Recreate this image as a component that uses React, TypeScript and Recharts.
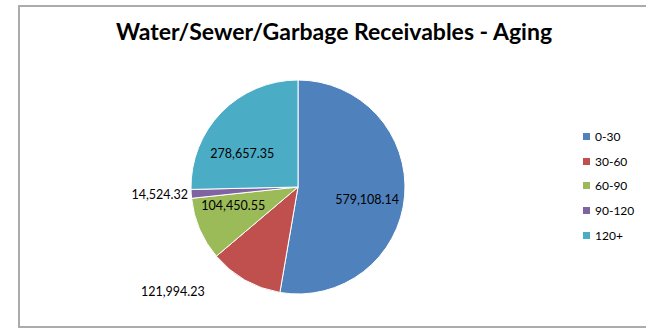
import { PieChart, Pie, Cell } from 'recharts';

const buckets = ['0-30', '30-60', '60-90', '90-120', '120+'];
const amounts = [579108.14, 121994.23, 104450.55, 14524.32, 278657.35];
const colors = ['#4F81BD', '#C0504D', '#9BBB59', '#8064A2', '#4BACC6'];

// label placement per slice: radius factor, angle nudge (deg), anchor
const labelRadius = [0.655, 1.31, 0.63, 1.03, 0.61];
const labelShift = [-5, -12, -7, 0, 13];
const labelAnchor = ['middle', 'end', 'middle', 'end', 'middle'];

const data = buckets.map((name, i) => ({ name, value: amounts[i] }));

const fmt = (v: number) =>
  v.toLocaleString('en-US', { minimumFractionDigits: 2, maximumFractionDigits: 2 });

const RADIAN = Math.PI / 180;

const renderLabel = ({ cx, cy, midAngle, outerRadius, index, value }: any) => {
  const r = outerRadius * labelRadius[index];
  const a = (midAngle + labelShift[index]) * RADIAN;
  const x = cx + r * Math.cos(-a);
  const y = cy + r * Math.sin(-a);
  return (
    <text
      x={x}
      y={y}
      textAnchor={labelAnchor[index] as any}
      dominantBaseline="central"
      fill="#000"
      fontSize={12.5}
      fontFamily="Lato, sans-serif"
    >
      {fmt(value)}
    </text>
  );
};

const LegendBox = () => (
  <div style={{ fontFamily: 'Lato, sans-serif', fontSize: 12, color: '#000' }}>
    {buckets.map((b, i) => (
      <div key={b} style={{ display: 'flex', alignItems: 'center', height: 24.7 }}>
        <span style={{ width: 7, height: 7, background: colors[i], marginRight: 5, display: 'inline-block' }} />
        {b}
      </div>
    ))}
  </div>
);

export default function App() {
  return (
    <div style={{ position: 'fixed', left: 0, top: 0, width: 646, height: 332, background: '#fff' }}>
      <div
        style={{
          position: 'absolute',
          left: 18,
          top: 5,
          width: 640,
          height: 319,
          border: '2px solid #ababab',
        }}
      />
      <div
        style={{
          position: 'absolute',
          left: 18,
          top: 17,
          width: 632,
          textAlign: 'center',
          fontFamily: 'Lato, sans-serif',
          fontWeight: 'bold',
          fontSize: 23,
          color: '#000',
        }}
      >
        Water/Sewer/Garbage Receivables - Aging
      </div>
      <div style={{ position: 'absolute', left: 0, top: 0 }}>
        <PieChart width={646} height={332} margin={{ top: 0, right: 0, bottom: 0, left: 0 }}>
          <Pie
            data={data}
            dataKey="value"
            nameKey="name"
            cx={298}
            cy={187}
            outerRadius={107}
            startAngle={90}
            endAngle={-270}
            stroke="#fff"
            strokeWidth={1}
            label={renderLabel}
            labelLine={false}
            isAnimationActive={false}
          >
            {data.map((d, i) => (
              <Cell key={d.name} fill={colors[i]} />
            ))}
          </Pie>
        </PieChart>
      </div>
      <div style={{ position: 'absolute', left: 583, top: 124 }}>
        <LegendBox />
      </div>
    </div>
  );
}
